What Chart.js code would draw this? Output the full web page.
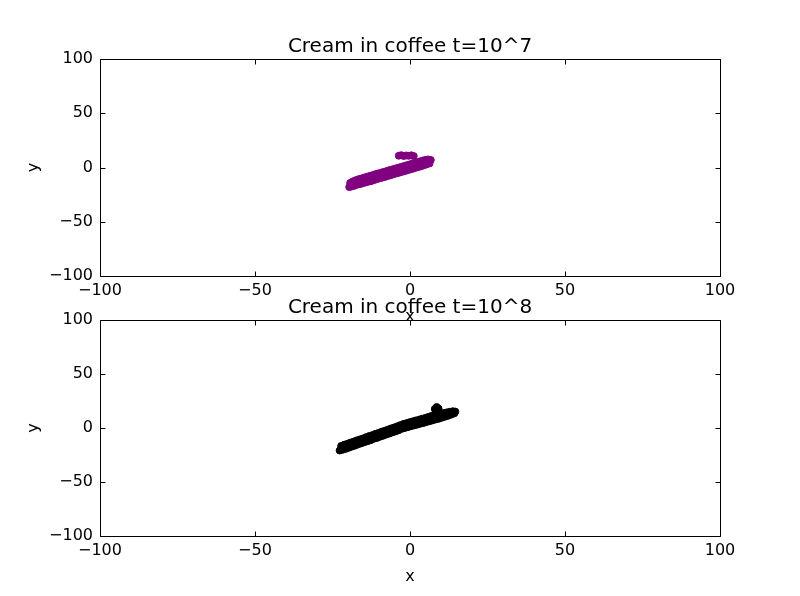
<!DOCTYPE html>
<html>
<head>
<meta charset="utf-8">
<script src="https://cdn.jsdelivr.net/npm/chart.js@4.4.0/dist/chart.umd.min.js"></script>
<style>
  body { margin: 0; background: #fff; }
  #wrap { position: relative; width: 800px; height: 596px; }
  #wrap canvas { position: absolute; left: 0; top: 0; }
</style>
</head>
<body>
<div id="wrap">
  <canvas id="chartTop" width="800" height="596"></canvas>
  <canvas id="chartBottom" width="800" height="596"></canvas>
</div>
<script>
// axis ticks (both plots, both axes)
var tickValues = [-100, -50, 0, 50, 100];

// t = 10^7
var x7 = [-19.6, -19.3, -18.9, -18.5, -18.0, -17.6, -17.1, -16.7, -16.2, -15.8, -15.3, -14.9, -14.4, -14.0, -13.5, -13.1, -12.6, -12.2, -11.7, -11.3,
  -10.8, -10.4, -9.9, -9.5, -9.0, -8.6, -8.1, -7.7, -7.2, -6.8, -6.3, -5.9, -5.4, -5.0, -4.5, -4.1, -3.6, -3.2, -2.7, -2.3,
  -1.8, -1.4, -0.9, -0.5, 0.0, 0.4, 0.9, 1.3, 1.8, 2.2, 2.7, 3.1, 3.6, 4.0, 4.5, 4.9, 5.4, 5.8, 6.3, 6.7,
  -17.0, -13.0, -9.0, -5.0, -1.0, 3.0, 6.0,
  -3.6, -2.8, -2.0, -1.2, -0.4, 0.4, 1.2];
var y7 = [-18.0, -14.2, -17.6, -12.9, -16.9, -11.8, -15.9, -10.9, -15.4, -10.2, -14.6, -9.4, -13.8, -8.6, -13.2, -7.9, -12.6, -7.2, -11.7, -6.3,
  -10.9, -5.6, -10.0, -4.9, -9.4, -4.1, -8.7, -3.4, -7.9, -2.6, -7.2, -1.9, -6.3, -1.2, -5.6, -0.4, -4.9, 0.3, -4.1, 1.0,
  -3.4, 1.8, -2.6, 2.5, -1.9, 3.3, -1.1, 4.0, -0.3, 4.8, 0.4, 5.6, 1.2, 6.3, 2.0, 7.0, 2.9, 7.4, 3.8, 6.9,
  -14.2, -10.5, -7.0, -3.7, -0.4, 3.0, 5.5,
  10.9, 11.3, 10.6, 11.1, 10.8, 11.2, 10.5];

// t = 10^8
var x8 = [-22.7, -22.2, -21.7, -21.2, -20.7, -20.2, -19.7, -19.2, -18.7, -18.2, -17.7, -17.2, -16.7, -16.2, -15.7, -15.2, -14.7, -14.2, -13.7, -13.2,
  -12.7, -12.2, -11.7, -11.2, -10.7, -10.2, -9.7, -9.2, -8.7, -8.2, -7.7, -7.2, -6.7, -6.2, -5.7, -5.2, -4.7, -4.2, -3.7, -3.2,
  -2.7, -2.2, -1.7, -1.2, -0.7, -0.2, 0.3, 0.8, 1.3, 1.8, 2.3, 2.8, 3.3, 3.8, 4.3, 4.8, 5.3, 5.8, 6.3, 6.8,
  7.3, 7.8, 8.3, 8.8, 9.3, 9.8, 10.3, 10.8, 11.3, 11.8, 12.3, 12.8, 13.3, 13.8, 14.3, 14.6,
  -20.0, -15.0, -10.0, -5.0, 0.0, 5.0, 10.0,
  8.0, 8.6, 9.2, 8.8];
var y8 = [-20.8, -16.6, -20.1, -15.5, -19.3, -14.6, -18.2, -13.5, -17.2, -12.6, -16.3, -11.5, -15.1, -10.6, -14.2, -9.7, -13.1, -8.5, -12.2, -7.5,
  -11.3, -6.6, -10.0, -5.5, -9.2, -4.6, -8.1, -3.5, -7.2, -2.6, -6.1, -1.6, -5.2, -0.5, -4.1, 0.4, -3.2, 1.5, -2.1, 2.6,
  -0.8, 3.6, 0.0, 4.4, 0.8, 5.3, 1.6, 6.1, 2.4, 6.9, 3.1, 7.6, 3.9, 8.5, 4.6, 9.2, 5.5, 10.1, 6.3, 11.0,
  7.1, 11.8, 7.9, 12.5, 8.6, 13.2, 9.6, 13.8, 10.5, 14.4, 11.4, 15.0, 12.4, 15.5, 13.6, 15.2,
  -16.2, -11.2, -6.2, -1.2, 3.4, 7.4, 11.2,
  17.6, 19.4, 18.0, 16.8];

var titleTop = 'Cream in coffee t=10^7';
var titleBottom = 'Cream in coffee t=10^8';

Chart.defaults.color = '#000';
Chart.defaults.font.family = '"DejaVu Sans", sans-serif';
Chart.defaults.font.size = 16;

// matplotlib style frame with inward ticks on all four sides, title centred over the axes
var framePlugin = {
  id: 'frame',
  afterDatasetsDraw: function(chart, args, opts) {
    var ctx = chart.ctx;
    var a = chart.chartArea;
    var l = Math.round(a.left) + 0.5, r = Math.round(a.right) + 0.5;
    var t = Math.round(a.top) + 0.5, b = Math.round(a.bottom) + 0.5;
    ctx.save();
    ctx.strokeStyle = '#000';
    ctx.lineWidth = 1;
    ctx.beginPath();
    ctx.rect(l, t, r - l, b - t);
    tickValues.forEach(function(v) {
      var px = Math.round(chart.scales.x.getPixelForValue(v)) + 0.5;
      ctx.moveTo(px, b); ctx.lineTo(px, b - 5);
      ctx.moveTo(px, t); ctx.lineTo(px, t + 5);
      var py = Math.round(chart.scales.y.getPixelForValue(v)) + 0.5;
      ctx.moveTo(l, py); ctx.lineTo(l + 5, py);
      ctx.moveTo(r, py); ctx.lineTo(r - 5, py);
    });
    ctx.stroke();
    ctx.fillStyle = '#000';
    ctx.font = '20px "DejaVu Sans", sans-serif';
    ctx.textAlign = 'center';
    ctx.textBaseline = 'middle';
    ctx.fillText(opts.text, (a.left + a.right) / 2, a.top - 12);
    ctx.restore();
  }
};

function minusSign(v) {
  return String(v).replace('-', '\u2212');
}

function makeChart(id, title, xs, ys, color, pad) {
  var points = xs.map(function(x, i) { return { x: x, y: ys[i] }; });
  return new Chart(document.getElementById(id), {
    type: 'scatter',
    data: {
      datasets: [{
        data: points,
        backgroundColor: color,
        borderColor: color,
        borderWidth: 1,
        pointRadius: 3.5,
        pointHoverRadius: 3.5
      }]
    },
    options: {
      responsive: false,
      animation: false,
      layout: { padding: pad },
      plugins: {
        legend: { display: false },
        tooltip: { enabled: false },
        title: { display: false },
        frame: { text: title }
      },
      scales: {
        x: {
          type: 'linear',
          min: -100, max: 100,
          afterBuildTicks: function(axis) { axis.ticks = tickValues.map(function(v) { return { value: v }; }); },
          afterFit: function(axis) { axis.height = 54; },
          grid: { display: false, drawTicks: false },
          border: { display: false },
          ticks: { padding: 5, maxRotation: 0, callback: minusSign },
          title: { display: true, text: 'x', font: { size: 16 } }
        },
        y: {
          type: 'linear',
          min: -100, max: 100,
          afterBuildTicks: function(axis) { axis.ticks = tickValues.map(function(v) { return { value: v }; }); },
          afterFit: function(axis) { axis.width = 80; },
          grid: { display: false, drawTicks: false },
          border: { display: false },
          ticks: { padding: 7, callback: minusSign },
          title: { display: true, text: 'y', font: { size: 16 } }
        }
      }
    },
    plugins: [framePlugin]
  });
}

makeChart('chartTop', titleTop, x7, y7, '#800080',
  { top: 59, left: 20, right: 80, bottom: 266 });
makeChart('chartBottom', titleBottom, x8, y8, '#000000',
  { top: 320, left: 20, right: 80, bottom: 6 });
</script>
</body>
</html>
